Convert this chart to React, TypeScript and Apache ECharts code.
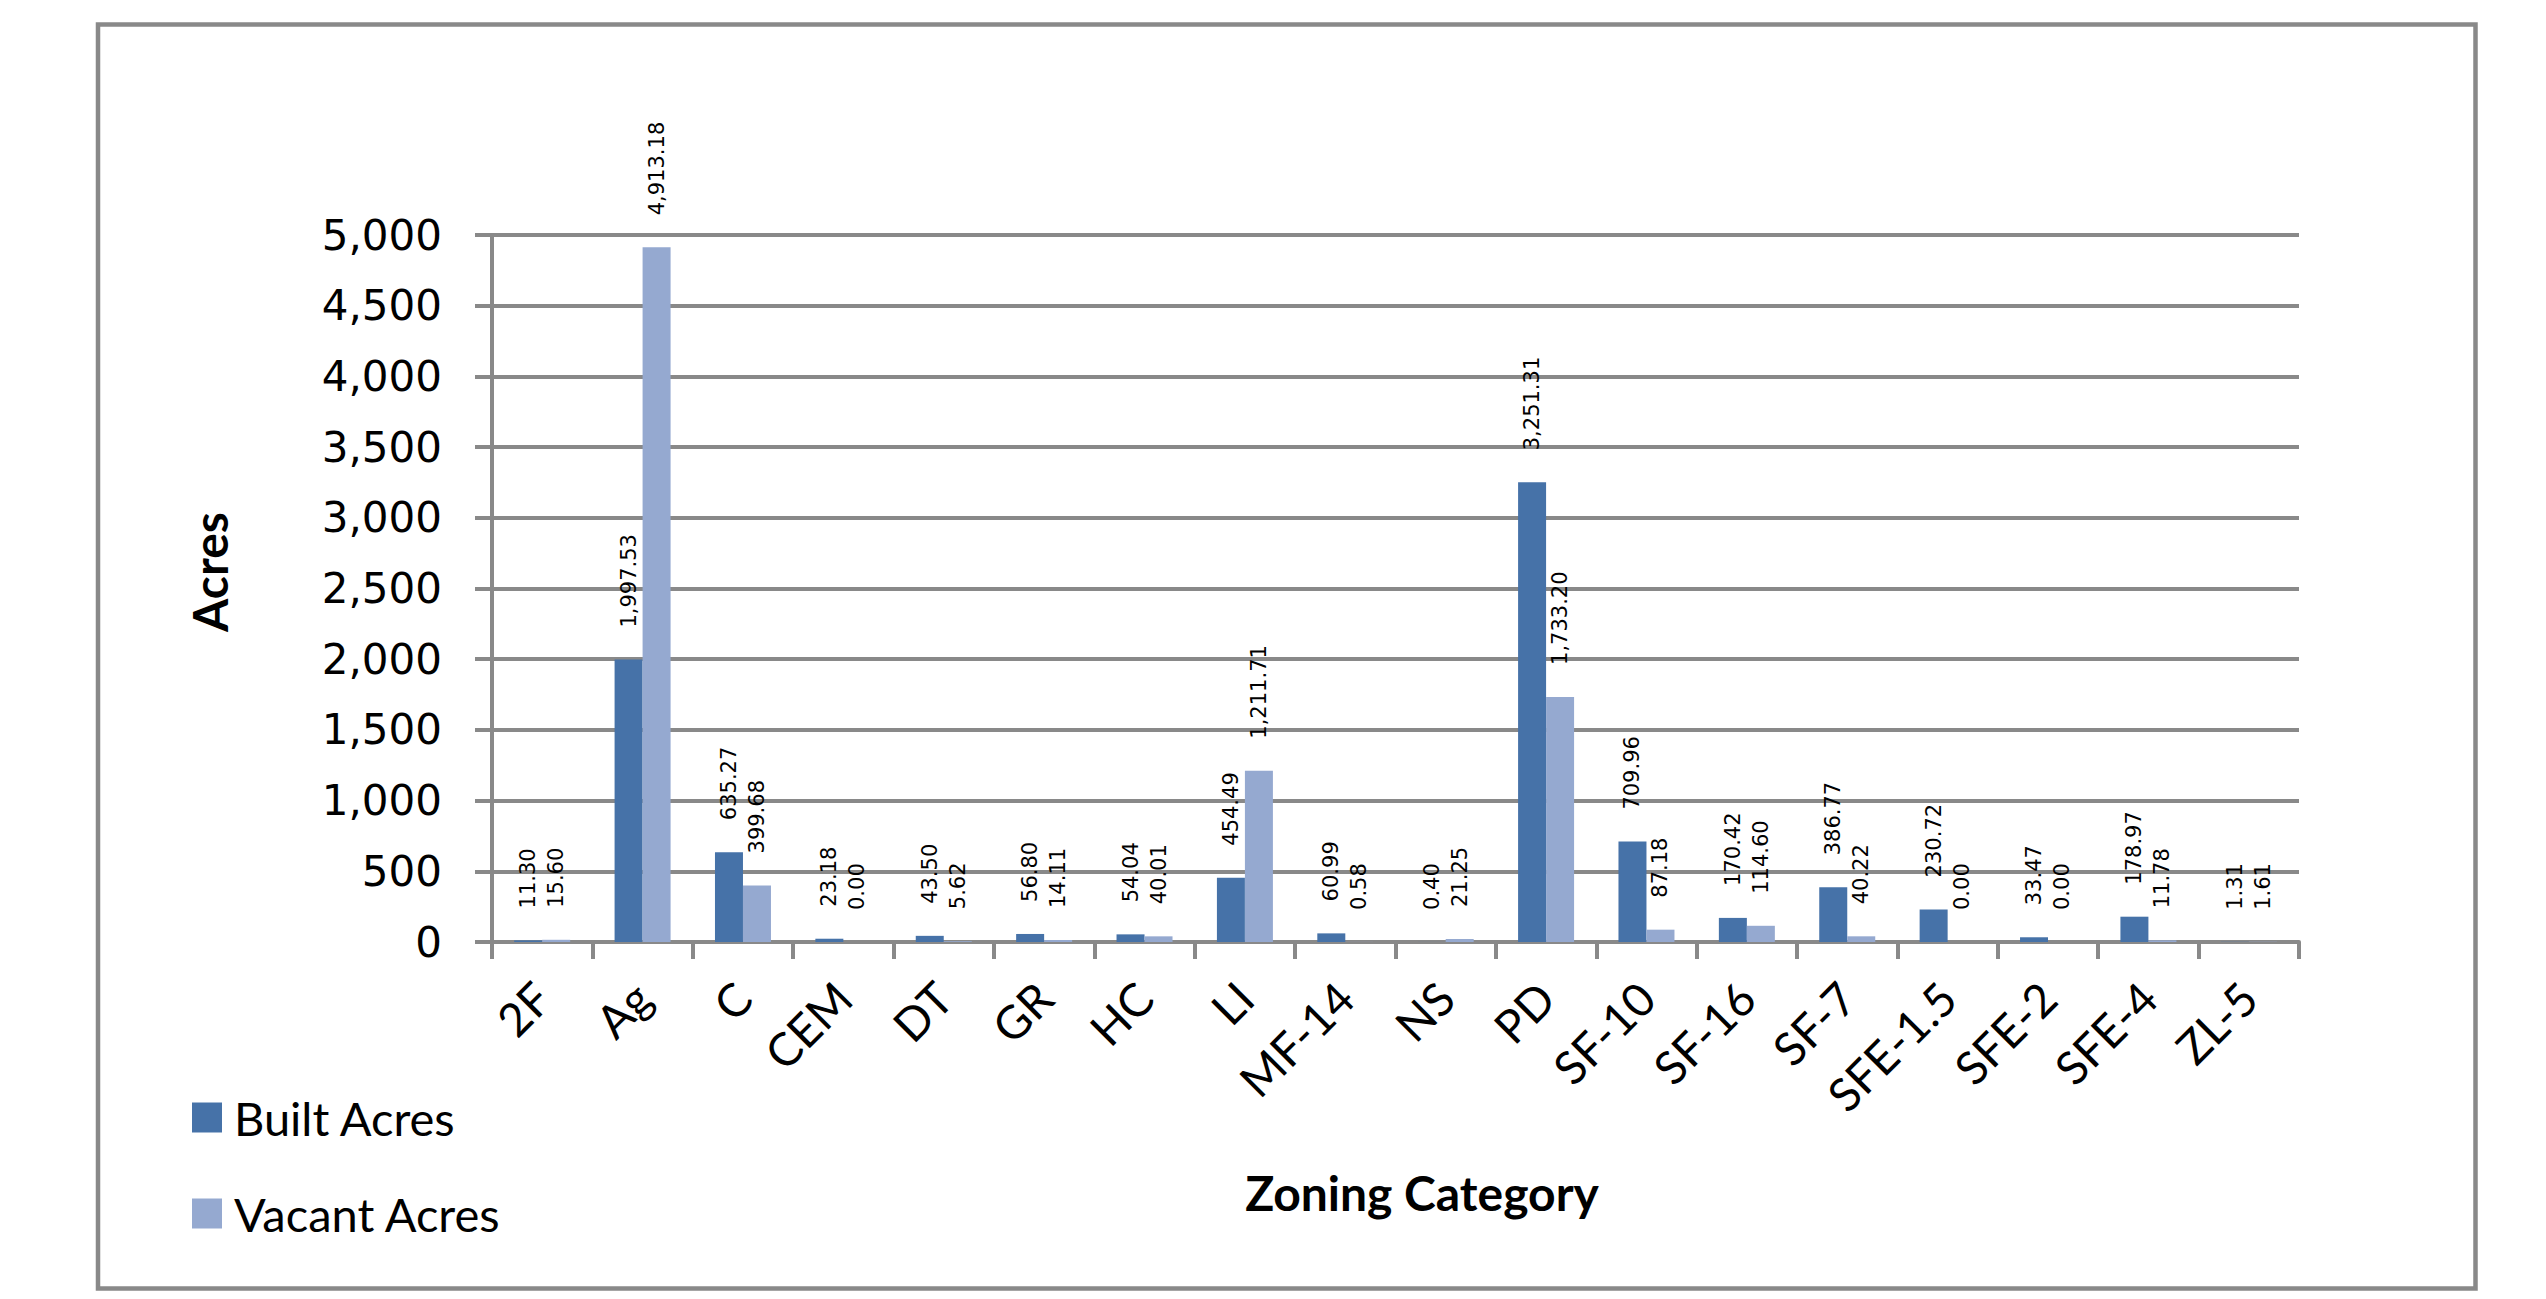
import React, { useEffect, useRef } from "react";
import * as echarts from "echarts";

const categories = ["2F", "Ag", "C", "CEM", "DT", "GR", "HC", "LI", "MF-14", "NS", "PD", "SF-10", "SF-16", "SF-7", "SFE-1.5", "SFE-2", "SFE-4", "ZL-5"];
const builtAcres = [11.3, 1997.53, 635.27, 23.18, 43.5, 56.8, 54.04, 454.49, 60.99, 0.4, 3251.31, 709.96, 170.42, 386.77, 230.72, 33.47, 178.97, 1.31];
const vacantAcres = [15.6, 4913.18, 399.68, 0.0, 5.62, 14.11, 40.01, 1211.71, 0.58, 21.25, 1733.2, 87.18, 114.6, 40.22, 0.0, 0.0, 11.78, 1.61];
const seriesNames = ["Built Acres", "Vacant Acres"];
const yTitle = "Acres";
const xTitle = "Zoning Category";

const fmt = (v: number, d: number) =>
  v.toLocaleString("en-US", { minimumFractionDigits: d, maximumFractionDigits: d });

export default function App() {
  const ref = useRef<HTMLDivElement>(null);
  useEffect(() => {
    if (!ref.current) return;
    const chart = echarts.init(ref.current, null, { renderer: "svg" });
    const gray = "#898989";
    const dataLabel = {
      show: true,
      position: "top",
      distance: 32,
      rotate: 90,
      align: "left",
      verticalAlign: "middle",
      fontFamily: "DejaVu Sans",
      fontSize: 21,
      color: "#000",
      formatter: (p: any) => fmt(p.value, 2),
    };
    chart.setOption({
      animation: false,
      backgroundColor: "#fff",
      grid: { left: 492, right: 247, top: 235, bottom: 357, containLabel: false },
      legend: {
        orient: "vertical",
        left: 192,
        top: 1094,
        padding: 0,
        itemWidth: 30,
        itemHeight: 30,
        itemGap: 49,
        icon: "rect",
        textStyle: { fontFamily: "Lato", fontSize: 47, lineHeight: 46, color: "#000", padding: [0, 0, 0, 7] },
        data: seriesNames,
      },
      xAxis: {
        type: "category",
        data: categories,
        boundaryGap: true,
        axisLine: { show: true, lineStyle: { color: gray, width: 4 } },
        axisTick: { show: true, length: 17, interval: 0, alignWithLabel: false, lineStyle: { color: gray, width: 4 } },
        axisLabel: {
          interval: 0,
          rotate: 45,
          margin: 48,
          fontFamily: "Lato",
          fontSize: 46,
          color: "#000",
        },
      },
      yAxis: {
        type: "value",
        min: 0,
        max: 5000,
        interval: 500,
        axisLine: { show: true, lineStyle: { color: gray, width: 4 } },
        axisTick: { show: true, length: 17, lineStyle: { color: gray, width: 4 } },
        splitLine: { show: true, lineStyle: { color: gray, width: 4 } },
        axisLabel: {
          margin: 50,
          fontFamily: "DejaVu Sans",
          fontSize: 42,
          color: "#000",
          formatter: (v: number) => fmt(v, 0),
        },
      },
      series: [
        {
          name: seriesNames[0],
          type: "bar",
          data: builtAcres,
          barWidth: 28,
          barGap: "0%",
          itemStyle: { color: "#4672A8" },
          label: dataLabel,
        },
        {
          name: seriesNames[1],
          type: "bar",
          data: vacantAcres,
          barWidth: 28,
          barGap: "0%",
          itemStyle: { color: "#95A9D0" },
          label: dataLabel,
        },
      ],
      graphic: [
        {
          type: "rect",
          shape: { x: 98, y: 24.5, width: 2377.5, height: 1264 },
          style: { fill: "none", stroke: gray, lineWidth: 4.5 },
          silent: true,
        },
        {
          type: "text",
          x: 209,
          y: 572,
          rotation: Math.PI / 2,
          style: {
            text: yTitle,
            fontFamily: "Lato",
            fontWeight: "bold",
            fontSize: 48,
            fill: "#000",
            align: "center",
            verticalAlign: "middle",
          },
        },
        {
          type: "text",
          x: 1422,
          y: 1192,
          style: {
            text: xTitle,
            fontFamily: "Lato",
            fontWeight: "bold",
            fontSize: 48,
            fill: "#000",
            align: "center",
            verticalAlign: "middle",
          },
        },
      ],
    });
    return () => chart.dispose();
  }, []);
  return (
    <div
      ref={ref}
      style={{ position: "fixed", left: 0, top: 0, width: 2546, height: 1299, background: "#fff" }}
    />
  );
}
